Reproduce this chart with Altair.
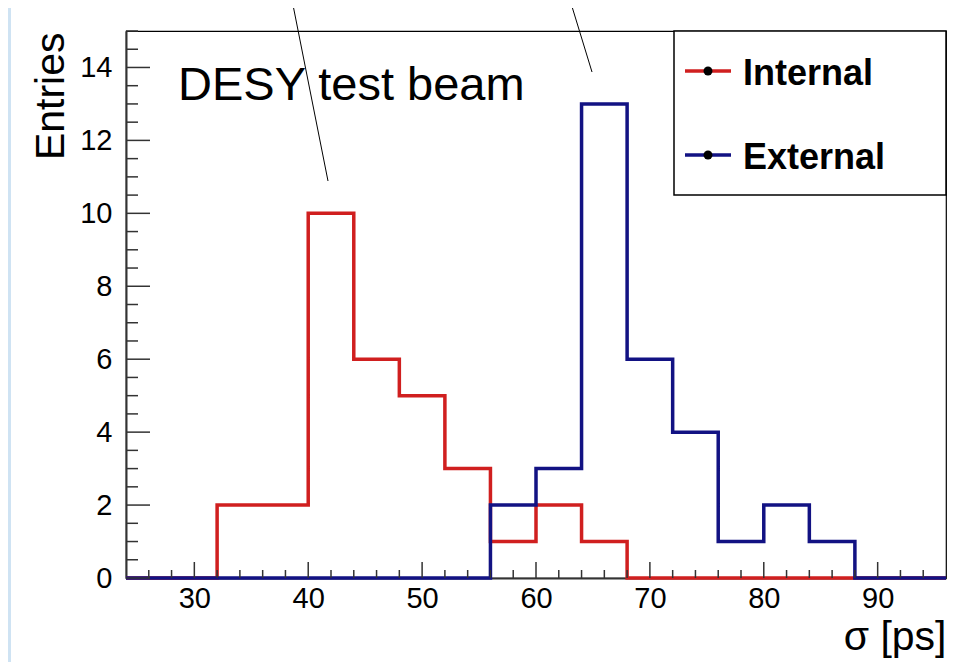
import altair as alt
import pandas as pd

# ---- data ----
bin_edges = [24, 28, 32, 36, 40, 44, 48, 52, 56, 60, 64, 68, 72, 76, 80, 84, 88, 92, 96]
internal = [0, 0, 2, 2, 10, 6, 5, 3, 1, 2, 1, 0, 0, 0, 0, 0, 0, 0]
external = [0, 0, 0, 0, 0, 0, 0, 0, 2, 3, 13, 6, 4, 1, 2, 1, 0, 0]
series_names = ["Internal", "External"]
series_colors = ["#d01f1f", "#121283"]

x_major = [30, 40, 50, 60, 70, 80, 90]
x_minor = [26, 28, 32, 34, 36, 38, 42, 44, 46, 48, 52, 54, 56, 58, 62, 64, 66, 68,
           72, 74, 76, 78, 82, 84, 86, 88, 92, 94]
y_major = [0, 2, 4, 6, 8, 10, 12, 14]
y_minor = [0.5, 1, 1.5, 2.5, 3, 3.5, 4.5, 5, 5.5, 6.5, 7, 7.5, 8.5, 9, 9.5, 10.5, 11, 11.5,
           12.5, 13, 13.5, 14.5, 15]

FONT = "Liberation Sans"
W, H = 820, 547
xs = alt.Scale(domain=[24, 96], nice=False, zero=False)
ys = alt.Scale(domain=[0, 15], nice=False)

axis_x = alt.Axis(values=x_major, ticks=False, labelFontSize=29, labelFont=FONT,
                  labelColor="black", labelPadding=6, domainColor="#333",
                  domainWidth=2, grid=False, title="σ [ps]", titleFont=FONT,
                  titleFontSize=41, titleFontWeight="normal", titleColor="black",
                  titleX=W, titleY=71, titleAlign="right", titleBaseline="alphabetic")
axis_y = alt.Axis(values=y_major, ticks=False, labelFontSize=29, labelFont=FONT,
                  labelColor="black", labelPadding=14, domainColor="#333",
                  domainWidth=2, grid=False, title="Entries", titleFont=FONT,
                  titleFontSize=41, titleFontWeight="normal", titleColor="black",
                  titleAngle=270, titleX=-63, titleY=1, titleAlign="right",
                  titleBaseline="alphabetic")


def step_df(counts):
    return pd.DataFrame({"x": bin_edges, "n": counts + [counts[-1]]})


one = pd.DataFrame({"a": [0]})

hist_layers = []
for i, counts in enumerate([internal, external]):
    hist_layers.append(
        alt.Chart(step_df(counts)).mark_line(
            interpolate="step-after", color=series_colors[i], strokeWidth=3.5
        ).encode(
            x=alt.X("x:Q", scale=xs, axis=axis_x),
            y=alt.Y("n:Q", scale=ys, axis=axis_y),
        )
    )

tick_color = "#333333"
xmaj = alt.Chart(pd.DataFrame({"x": x_major})).mark_rule(color=tick_color, strokeWidth=1.5).encode(
    x=alt.X("x:Q", scale=xs, axis=axis_x), y=alt.value(H), y2=alt.value(H - 16))
xmin = alt.Chart(pd.DataFrame({"x": x_minor})).mark_rule(color=tick_color, strokeWidth=1.5).encode(
    x=alt.X("x:Q", scale=xs, axis=axis_x), y=alt.value(H), y2=alt.value(H - 8))
ymaj = alt.Chart(pd.DataFrame({"n": y_major})).mark_rule(color=tick_color, strokeWidth=1.5).encode(
    y=alt.Y("n:Q", scale=ys, axis=axis_y), x=alt.value(0), x2=alt.value(24))
ymin = alt.Chart(pd.DataFrame({"n": y_minor})).mark_rule(color=tick_color, strokeWidth=1.5).encode(
    y=alt.Y("n:Q", scale=ys, axis=axis_y), x=alt.value(0), x2=alt.value(12))

# decorations
left_strip = alt.Chart(one).mark_rect(color="#cfe3f3").encode(
    x=alt.value(-118), x2=alt.value(-115), y=alt.value(-23), y2=alt.value(631))

desy = alt.Chart(one).mark_text(text="DESY test beam", font=FONT, fontSize=47, align="left",
                                baseline="alphabetic", color="black").encode(
    x=alt.value(52), y=alt.value(69))

ann1 = alt.Chart(one).mark_rule(color="black", strokeWidth=1).encode(
    x=alt.value(166), y=alt.value(-31), x2=alt.value(202), y2=alt.value(150))
ann2 = alt.Chart(one).mark_rule(color="black", strokeWidth=1).encode(
    x=alt.value(444), y=alt.value(-31), x2=alt.value(466), y2=alt.value(41))

legend_box = alt.Chart(one).mark_rect(fill="white", stroke="black", strokeWidth=1.5).encode(
    x=alt.value(548), x2=alt.value(820), y=alt.value(0), y2=alt.value(164))

legend_layers = [legend_box]
for i, name in enumerate(series_names):
    ly = 40 + 84 * i
    legend_layers.append(alt.Chart(one).mark_rule(color=series_colors[i], strokeWidth=3.5).encode(
        x=alt.value(559), x2=alt.value(605), y=alt.value(ly)))
    legend_layers.append(alt.Chart(one).mark_point(filled=True, color="black", size=80, opacity=1).encode(
        x=alt.value(582), y=alt.value(ly)))
    legend_layers.append(alt.Chart(one).mark_text(text=name, font=FONT, fontSize=36, fontWeight="bold",
                                                  align="left", baseline="alphabetic", color="black").encode(
        x=alt.value(617), y=alt.value(ly + 14)))

chart = alt.layer(
    left_strip, *hist_layers, xmaj, xmin, ymaj, ymin, desy, *legend_layers, ann1, ann2
).properties(
    width=W, height=H,
    padding={"left": 118, "top": 23, "right": 22, "bottom": 84},
    autosize=alt.AutoSizeParams(type="none"),
    background="white",
).configure_view(stroke="black", strokeWidth=1.2)

chart.save("out.html", embed_options={"renderer": "svg", "actions": False})
